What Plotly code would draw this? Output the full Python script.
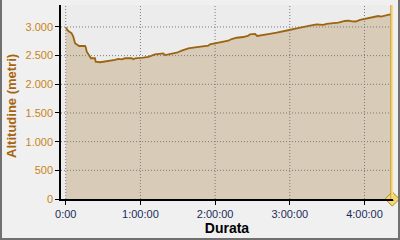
import plotly.graph_objects as go

# Duration in minutes and altitude in metres
minutes = [0, 0.6, 2.1, 4.8, 6.1, 7.5, 8.3, 10.7, 15.5, 16.1, 16.9, 18.2, 19.5, 20.3,
           23.5, 24.1, 27.6, 35.6, 39.6, 42.2, 45.0, 47.6, 53.0, 54.3, 55.7, 62.3,
           66.3, 71.7, 78.4, 79.8, 83.8, 89.2, 93.2, 95.8, 98.5, 103.9, 109.2, 114.5,
           115.9, 119.9, 123.9, 130.6, 133.3, 137.3, 142.7, 146.7, 148.0, 152.1, 153.7,
           156.1, 162.7, 169.5, 176.1, 179.6, 185.5, 192.2, 196.2, 201.6, 206.9, 209.6,
           213.7, 219.0, 224.3, 227.0, 230.0, 233.0, 236.4, 240.4, 243.1, 247.1, 251.1,
           253.3, 256.5, 260.5, 262.3]
altitude = [2990, 2975, 2930, 2890, 2830, 2715, 2700, 2668, 2668, 2645, 2570, 2530, 2480, 2454,
            2454, 2395, 2385, 2407, 2425, 2442, 2436, 2454, 2454, 2436, 2454, 2465,
            2480, 2523, 2540, 2510, 2530, 2551, 2586, 2610, 2628, 2645, 2662, 2673,
            2698, 2715, 2743, 2760, 2790, 2812, 2825, 2848, 2872, 2878, 2843,
            2855, 2875, 2900, 2925, 2947, 2977, 3012, 3022, 3046, 3035, 3052,
            3064, 3075, 3104, 3110, 3099, 3095, 3122, 3139, 3162, 3168, 3191,
            3180, 3203, 3220, 3209]

x_tick_vals = [0, 60, 120, 180, 240]
x_tick_text = ["0:00", "1:00:00", "2:00:00", "3:00:00", "4:00:00"]
y_tick_vals = [0, 500, 1000, 1500, 2000, 2500, 3000]
waypoint_label = ["1"]

W, H = 400, 240
L, R, T, B = 61, 7, 5, 41
pw, ph = W - L - R, H - T - B

fig = go.Figure()
fig.add_trace(go.Scatter(
    x=minutes, y=altitude, mode="lines", fill="tozeroy",
    fillcolor="#d8cbb7", line=dict(color="#9b6410", width=1.8),
    hoverinfo="skip", showlegend=False))

# dotted grid drawn above the filled area
grid = dict(color="#7a7a7a", width=1, dash="1px,2px")
for v in x_tick_vals:
    fig.add_shape(type="line", xref="x", yref="paper", x0=v, x1=v, y0=0, y1=1,
                  line=grid, layer="above")
for v in y_tick_vals[1:]:
    fig.add_shape(type="line", xref="paper", yref="y", x0=0, x1=1, y0=v, y1=v,
                  line=grid, layer="above")

# end waypoint marker
end_x = minutes[-1]
fig.add_shape(type="line", xref="x", yref="paper", x0=end_x, x1=end_x, y0=0, y1=1,
              line=dict(color="#c9a040", width=4), layer="above")
fig.add_shape(type="line", xref="x", yref="paper", x0=end_x, x1=end_x, y0=0, y1=1,
              line=dict(color="#f6dc84", width=2), layer="above")
fig.add_trace(go.Scatter(
    x=[end_x], y=[0], mode="markers+text", text=waypoint_label,
    textposition="middle center", textfont=dict(size=7, color="#000000", family="Liberation Sans"),
    marker=dict(symbol="diamond", size=11, color="#f6d870", line=dict(color="#b08a20", width=1)),
    cliponaxis=False, hoverinfo="skip", showlegend=False))

# outer border
fig.add_shape(type="rect", xref="paper", yref="paper",
              x0=(-L + 1) / pw, x1=(W - 1 - L) / pw,
              y0=-(B - 1) / ph, y1=(H - 1 - T) / ph,
              line=dict(color="#707070", width=2), layer="above")

fig.add_annotation(text="<b>Altitudine (metri)</b>", xref="paper", yref="paper",
                   x=(12 - L) / pw, y=0.48, textangle=-90, showarrow=False,
                   xanchor="center", yanchor="middle",
                   font=dict(size=13, color="#a8640c", family="Liberation Sans"))

fig.update_layout(
    width=W, height=H, margin=dict(l=L, r=R, t=T, b=B),
    paper_bgcolor="#f0f0f0", plot_bgcolor="#ececec",
    separators=",.",
    font=dict(family="Liberation Sans", size=11),
    xaxis=dict(range=[-3.8, 262.9], tickvals=x_tick_vals, ticktext=x_tick_text,
               showgrid=False, layer="above traces",
               showline=True, linecolor="#000000", linewidth=1.5,
               ticks="outside", ticklen=4, tickcolor="#000000",
               tickfont=dict(size=11, color="#1c2c58"), zeroline=False,
               title=dict(text="<b>Durata</b>", font=dict(size=14, color="#000000"), standoff=4)),
    yaxis=dict(range=[0, 3383], tickvals=y_tick_vals, tickformat=",d",
               showgrid=False, layer="above traces",
               showline=True, linecolor="#000000", linewidth=1.5,
               ticks="outside", ticklen=4, tickcolor="#000000",
               tickfont=dict(size=11, color="#c8841c"), zeroline=False),
)

fig.write_html("out.html")
